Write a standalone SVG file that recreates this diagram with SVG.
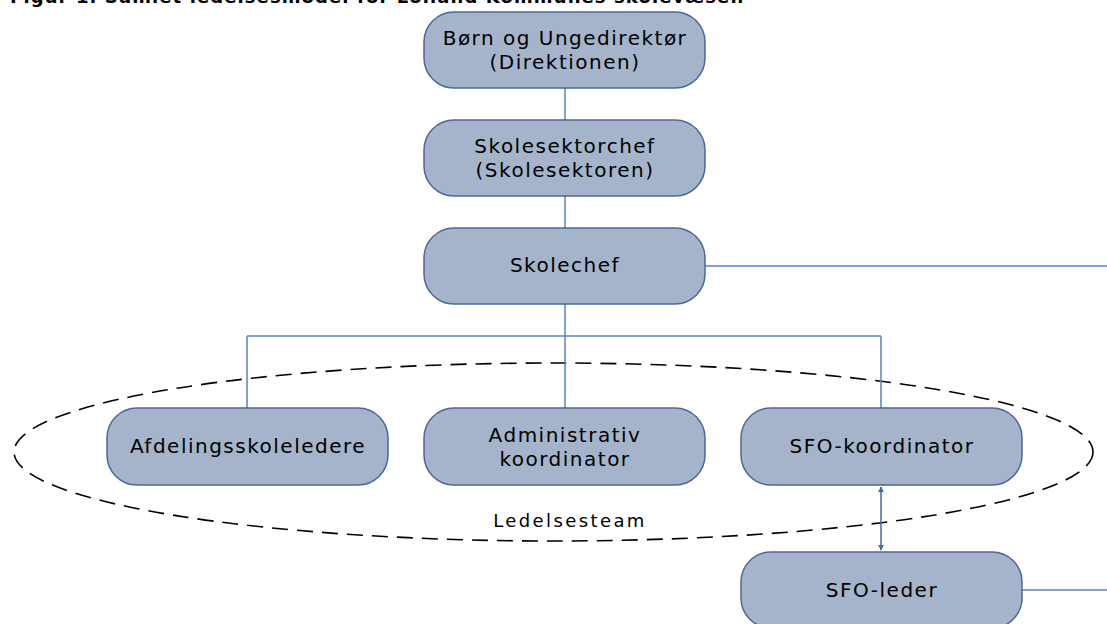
<svg xmlns="http://www.w3.org/2000/svg" width="1107" height="624" viewBox="0 0 1107 624">
<style>
.node rect{fill:#a5b4ca;stroke:#4a6898;stroke-width:1.5}
.node text{font-family:"DejaVu Sans",Verdana,sans-serif;font-size:20px;letter-spacing:1.5px;fill:#000;text-anchor:middle}
.conn line{stroke:#5a82bd;stroke-width:1.5;fill:none}
.lbl{font-family:"DejaVu Sans",Verdana,sans-serif;font-size:18px;fill:#000}
</style>
<defs>
<marker id="ah" viewBox="0 0 8 8" refX="7" refY="4" markerWidth="4" markerHeight="4" orient="auto-start-reverse">
<path d="M0,0 L8,4 L0,8 Z" fill="#4a6898"/>
</marker>
</defs>
<rect width="1107" height="624" fill="#fff"/>
<text class="lbl" x="10" y="3" font-weight="bold" style="font-size:18px;letter-spacing:1.1px">Figur 1. Samlet ledelsesmodel for Lolland Kommunes skolevæsen</text>
<ellipse cx="553.5" cy="452" rx="539.5" ry="89" fill="none" stroke="#000" stroke-width="1.6" stroke-dasharray="16,9"/>
<g class="conn">
<line x1="565" y1="88" x2="565" y2="120"/>
<line x1="565" y1="196" x2="565" y2="228"/>
<line x1="565" y1="304" x2="565" y2="408"/>
<line x1="247" y1="336" x2="881" y2="336"/>
<line x1="247" y1="336" x2="247" y2="408"/>
<line x1="881" y1="336" x2="881" y2="408"/>
<line x1="705" y1="266" x2="1107" y2="266"/>
<line x1="1022" y1="590" x2="1107" y2="590"/>
<line x1="881" y1="487" x2="881" y2="550" marker-start="url(#ah)" marker-end="url(#ah)" style="stroke:#4a6898"/>
</g>
<g id="n1" class="node"><rect x="424" y="12" width="281" height="76" rx="30"/><text x="565" y="45">Børn og Ungedirektør</text><text x="565" y="69">(Direktionen)</text></g>
<g id="n2" class="node"><rect x="424" y="120" width="281" height="76" rx="30"/><text x="565" y="153">Skolesektorchef</text><text x="565" y="177">(Skolesektoren)</text></g>
<g id="n3" class="node"><rect x="424" y="228" width="281" height="76" rx="30"/><text x="565" y="272">Skolechef</text></g>
<g id="n4" class="node"><rect x="107" y="408" width="281" height="77" rx="30"/><text x="248" y="453">Afdelingsskoleledere</text></g>
<g id="n5" class="node"><rect x="424" y="408" width="281" height="77" rx="30"/><text x="565" y="442">Administrativ</text><text x="565" y="466">koordinator</text></g>
<g id="n6" class="node"><rect x="741" y="408" width="281" height="77" rx="30"/><text x="882" y="453">SFO-koordinator</text></g>
<g id="n7" class="node"><rect x="741" y="552" width="281" height="76" rx="30"/><text x="882" y="597">SFO-leder</text></g>
<text class="lbl" x="570" y="527" text-anchor="middle" style="letter-spacing:2.4px">Ledelsesteam</text>
</svg>
